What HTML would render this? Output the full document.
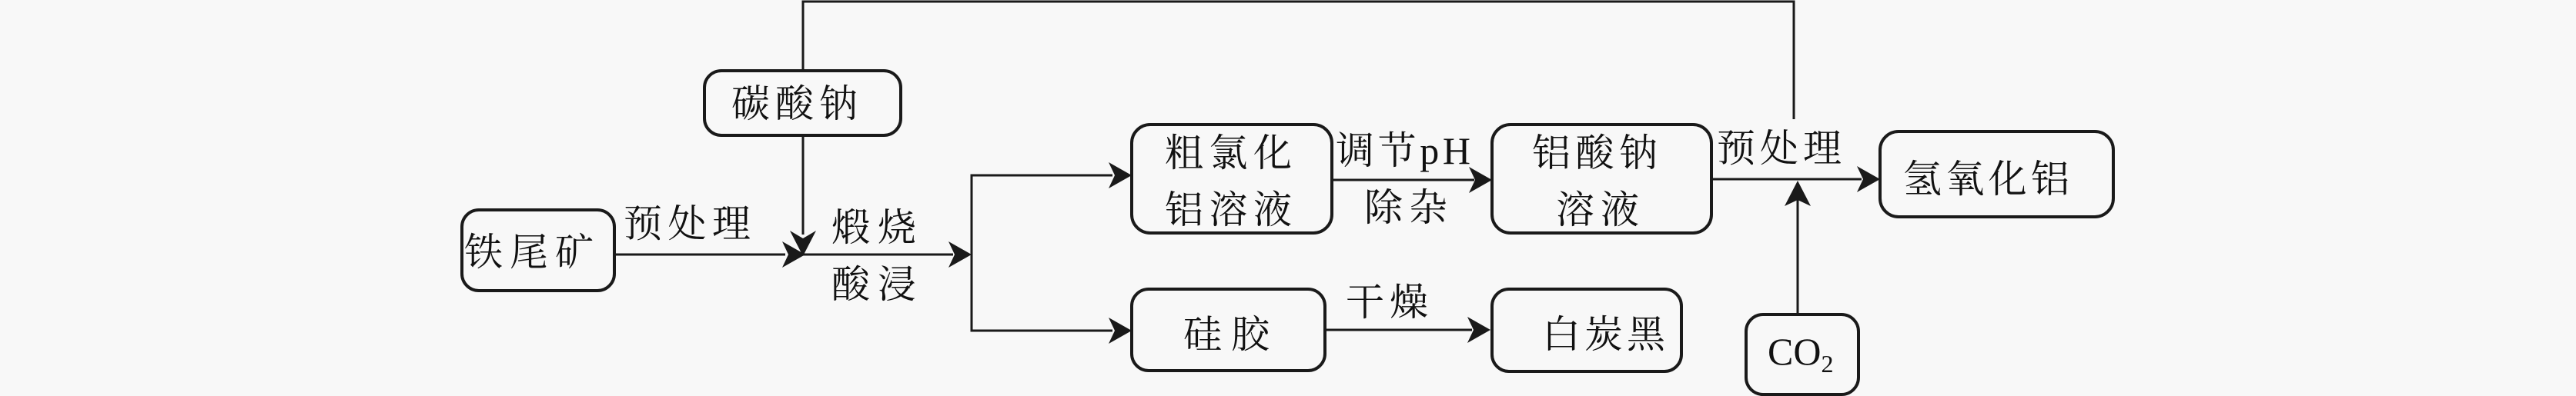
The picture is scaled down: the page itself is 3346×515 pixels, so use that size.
<!DOCTYPE html>
<html><head><meta charset="utf-8"><style>
html,body{margin:0;padding:0;background:#f8f8f8;}
svg{display:block;}
text{font-family:"Liberation Serif","Noto Serif CJK SC",serif;font-size:50px;fill:#111;}
</style></head><body>
<svg width="3346" height="515" viewBox="0 0 3346 515" xmlns="http://www.w3.org/2000/svg">
<rect width="3346" height="515" fill="#f8f8f8"/>
<g fill="none" stroke="#1a1a1a">
<g stroke-width="4">
<rect x="600" y="273" width="198" height="105" rx="22"/>
<rect x="915" y="92" width="255" height="84" rx="22"/>
<rect x="1470" y="162" width="260" height="141" rx="24"/>
<rect x="1470" y="376" width="251" height="106" rx="22"/>
<rect x="1938" y="162" width="285" height="141" rx="24"/>
<rect x="1938" y="376" width="246" height="107" rx="22"/>
<rect x="2442" y="171" width="303" height="111" rx="24"/>
<rect x="2268" y="409" width="146" height="104" rx="22"/>
</g>
<g stroke-width="3">
<polyline points="1043,92 1043,2 2330,2 2330,155"/>
<line x1="1043" y1="176" x2="1043" y2="305"/>
<line x1="798" y1="331" x2="1020" y2="331"/>
<line x1="1043" y1="331" x2="1238" y2="331"/>
<polyline points="1445,228 1262,228 1262,430 1445,430"/>
<line x1="1730" y1="234" x2="1915" y2="234"/>
<line x1="2223" y1="233" x2="2418" y2="233"/>
<line x1="1721" y1="429" x2="1912" y2="429"/>
<line x1="2335" y1="409" x2="2335" y2="258"/>
</g>
</g>
<g fill="#1a1a1a">
<path d="M1046,331 L1016,314 L1024,331 L1016,348 Z"/>
<path d="M1043,333 L1026,300 L1043,310 L1060,300 Z"/>
<path d="M1262,331 L1232,314 L1240,331 L1232,348 Z"/>
<path d="M1470,228 L1440,211 L1448,228 L1440,245 Z"/>
<path d="M1470,430 L1440,413 L1448,430 L1440,447 Z"/>
<path d="M1938,234 L1908,217 L1916,234 L1908,251 Z"/>
<path d="M2442,233 L2412,216 L2420,233 L2412,250 Z"/>
<path d="M1936,429 L1906,412 L1914,429 L1906,446 Z"/>
<path d="M2335,235 L2318,268 L2335,260 L2352,268 Z"/>
</g>
<text x="603" y="345" textLength="168">铁尾矿</text>
<text x="950" y="152" textLength="164">碳酸钠</text>
<text x="810" y="308" textLength="165">预处理</text>
<text x="1080" y="313" textLength="110">煅烧</text>
<text x="1080" y="387" textLength="110">酸浸</text>
<text x="1513" y="216" textLength="165">粗氯化</text>
<text x="1513" y="290" textLength="165">铝溶液</text>
<text x="1537" y="452" textLength="112">硅胶</text>
<text x="1735" y="213" textLength="175">调节pH</text>
<text x="1772" y="287" textLength="108">除杂</text>
<text x="1748" y="410" textLength="107">干燥</text>
<text x="1990" y="216" textLength="163">铝酸钠</text>
<text x="2021" y="290" textLength="108">溶液</text>
<text x="2003" y="452" textLength="160">白炭黑</text>
<text x="2230" y="210" textLength="162">预处理</text>
<text x="2472" y="250" textLength="216">氢氧化铝</text>
<text x="2296" y="474" font-size="56">CO<tspan font-size="32" dy="10">2</tspan></text>
</svg>
</body></html>
